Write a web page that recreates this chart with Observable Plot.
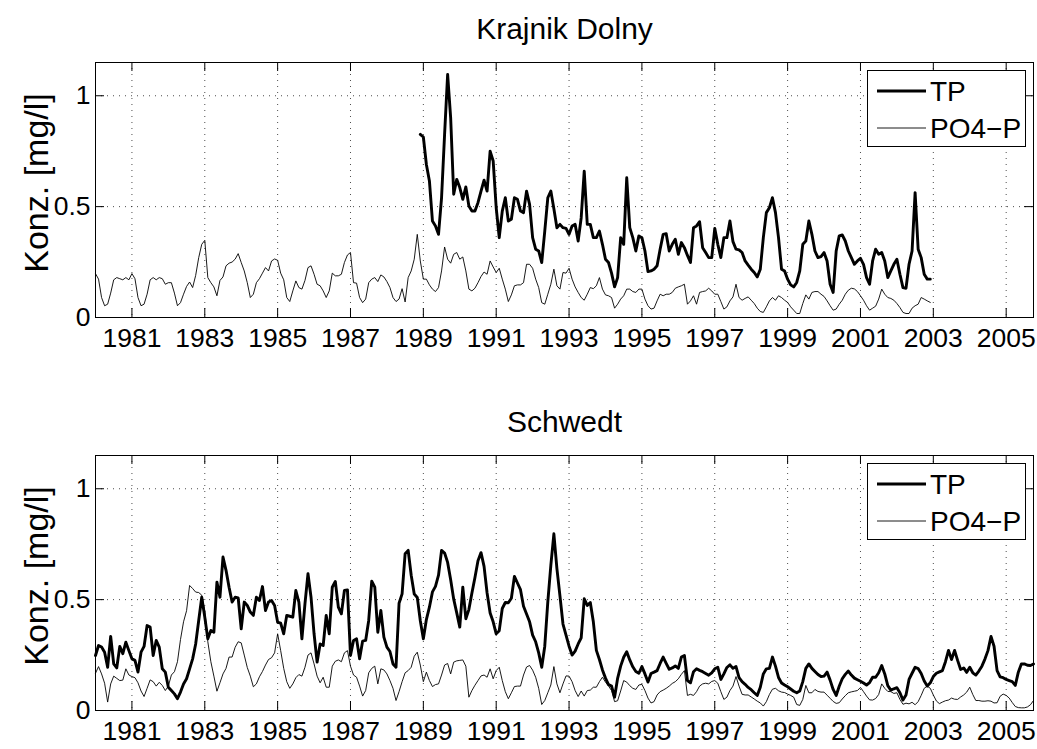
<!DOCTYPE html>
<html><head><meta charset="utf-8">
<script src="https://cdn.jsdelivr.net/npm/d3@7"></script>
<script src="https://cdn.jsdelivr.net/npm/@observablehq/plot@0.6"></script>
<style>
html,body{margin:0;padding:0;background:#fff;}
#chart{position:relative;width:1037px;height:749px;overflow:hidden;background:#fff;}
#chart svg{display:block;}
.panel{position:absolute;left:0;}
.legend{position:absolute;}
</style></head><body><div id="chart"></div>
<script>
// ---- data (monthly values, months counted from Jan 1980) ----
const stations = ["Krajnik Dolny", "Schwedt"];
const seriesNames = ["TP", "PO4\u2212P"];
const yearTicks = [1981, 1983, 1985, 1987, 1989, 1991, 1993, 1995, 1997, 1999, 2001, 2003, 2005];
const yTicks = [0, 0.5, 1];
const startYear = 1980;
const lastMonth = 309;

const krajnikPO4Start = 0;
const krajnikPO4 = [
0.198,0.173,0.09,0.053,0.06,0.11,0.17,0.18,0.175,0.17,
0.18,0.17,0.198,0.175,0.09,0.053,0.06,0.105,0.17,0.18,
0.17,0.18,0.175,0.15,0.157,0.157,0.11,0.053,0.067,0.105,
0.14,0.16,0.135,0.19,0.27,0.33,0.348,0.18,0.157,0.138,
0.098,0.167,0.183,0.233,0.245,0.25,0.263,0.288,0.248,0.21,
0.157,0.09,0.105,0.157,0.175,0.2,0.225,0.21,0.255,0.264,
0.258,0.2,0.17,0.09,0.072,0.12,0.165,0.135,0.128,0.167,
0.225,0.233,0.195,0.15,0.143,0.12,0.09,0.12,0.2,0.188,
0.188,0.195,0.248,0.282,0.293,0.157,0.155,0.09,0.067,0.083,
0.157,0.173,0.18,0.162,0.192,0.183,0.162,0.135,0.09,0.072,
0.083,0.13,0.07,0.18,0.21,0.263,0.375,0.255,0.173,0.173,
0.147,0.128,0.117,0.135,0.21,0.318,0.263,0.245,0.285,0.293,
0.263,0.273,0.21,0.128,0.12,0.132,0.157,0.185,0.205,0.195,
0.255,0.228,0.203,0.222,0.173,0.128,0.072,0.102,0.143,0.147,
0.147,0.157,0.24,0.24,0.222,0.173,0.135,0.067,0.06,0.105,
0.15,0.218,0.143,0.128,0.203,0.2,0.222,0.173,0.138,0.113,
0.09,0.078,0.105,0.135,0.13,0.143,0.18,0.128,0.102,0.098,
0.09,0.042,0.06,0.083,0.098,0.128,0.128,0.117,0.113,0.128,
0.128,0.083,0.053,0.038,0.042,0.075,0.105,0.098,0.105,0.105,
0.113,0.132,0.138,0.143,0.15,0.06,0.075,0.098,0.06,0.113,
0.117,0.12,0.132,0.12,0.105,0.105,0.072,0.038,0.048,0.075,
0.093,0.15,0.09,0.078,0.086,0.093,0.078,0.063,0.042,0.027,
0.023,0.048,0.075,0.09,0.078,0.098,0.09,0.078,0.068,0.048,
0.033,0.018,0.018,0.063,0.102,0.083,0.113,0.117,0.117,0.105,
0.095,0.075,0.053,0.033,0.038,0.06,0.078,0.105,0.123,0.132,
0.129,0.117,0.098,0.078,0.053,0.033,0.042,0.051,0.083,0.128,
0.105,0.09,0.086,0.078,0.063,0.045,0.023,0.018,0.018,0.042,
0.053,0.06,0.09,0.083,0.075,0.068];

const krajnikTPStart = 107;
const krajnikTP = [
0.826,0.814,0.69,0.616,0.435,0.413,0.375,0.54,0.826,1.096,
0.9,0.556,0.623,0.586,0.533,0.589,0.503,0.48,0.48,0.518,
0.57,0.619,0.57,0.75,0.706,0.495,0.36,0.48,0.54,0.435,
0.443,0.54,0.533,0.48,0.473,0.57,0.51,0.36,0.308,0.3,
0.248,0.39,0.54,0.57,0.49,0.405,0.42,0.405,0.402,0.375,
0.413,0.42,0.345,0.45,0.66,0.42,0.42,0.36,0.36,0.39,
0.33,0.263,0.248,0.2,0.138,0.18,0.36,0.33,0.63,0.405,
0.36,0.3,0.368,0.36,0.3,0.207,0.21,0.218,0.233,0.308,
0.375,0.378,0.3,0.33,0.353,0.285,0.338,0.315,0.28,0.248,
0.405,0.413,0.432,0.315,0.293,0.27,0.27,0.402,0.33,0.27,
0.36,0.36,0.435,0.342,0.308,0.305,0.293,0.255,0.236,0.218,
0.203,0.183,0.218,0.36,0.473,0.495,0.54,0.473,0.36,0.218,
0.21,0.173,0.147,0.138,0.158,0.21,0.33,0.345,0.435,0.375,
0.3,0.27,0.275,0.293,0.255,0.15,0.113,0.3,0.368,0.372,
0.345,0.3,0.27,0.24,0.255,0.267,0.24,0.18,0.15,0.255,
0.308,0.285,0.293,0.255,0.18,0.21,0.24,0.263,0.195,0.135,
0.132,0.24,0.3,0.563,0.308,0.27,0.195,0.173,0.173];

const schwedtTPStart = 0;
const schwedtTP = [
0.248,0.293,0.286,0.263,0.195,0.334,0.21,0.192,0.289,0.256,
0.308,0.27,0.233,0.226,0.173,0.263,0.289,0.383,0.376,0.248,
0.316,0.286,0.188,0.173,0.105,0.09,0.075,0.053,0.083,0.12,
0.143,0.188,0.233,0.3,0.406,0.511,0.421,0.323,0.361,0.353,
0.579,0.511,0.692,0.632,0.556,0.489,0.511,0.508,0.368,0.489,
0.474,0.444,0.429,0.511,0.496,0.559,0.451,0.489,0.496,0.474,
0.398,0.394,0.346,0.429,0.425,0.421,0.541,0.489,0.323,0.481,
0.617,0.511,0.346,0.218,0.3,0.293,0.429,0.346,0.556,0.582,
0.466,0.436,0.541,0.544,0.248,0.316,0.323,0.233,0.313,0.316,
0.406,0.583,0.556,0.353,0.451,0.331,0.286,0.266,0.21,0.195,
0.484,0.526,0.707,0.722,0.61,0.525,0.51,0.405,0.323,0.41,
0.466,0.535,0.56,0.61,0.722,0.71,0.668,0.59,0.502,0.44,
0.376,0.556,0.414,0.455,0.53,0.6,0.675,0.712,0.65,0.53,
0.44,0.40,0.346,0.36,0.46,0.487,0.486,0.506,0.605,0.575,
0.545,0.47,0.435,0.40,0.34,0.31,0.26,0.195,0.29,0.49,
0.655,0.797,0.64,0.517,0.39,0.34,0.29,0.25,0.268,0.3,
0.328,0.504,0.474,0.487,0.4,0.271,0.23,0.183,0.146,0.117,
0.11,0.06,0.145,0.2,0.24,0.265,0.228,0.197,0.176,0.168,
0.198,0.165,0.128,0.167,0.173,0.18,0.212,0.241,0.213,0.186,
0.192,0.201,0.19,0.241,0.248,0.135,0.125,0.175,0.188,0.181,
0.175,0.167,0.159,0.17,0.188,0.195,0.14,0.165,0.194,0.206,
0.19,0.198,0.148,0.13,0.118,0.104,0.094,0.08,0.068,0.105,
0.165,0.188,0.19,0.241,0.2,0.149,0.124,0.115,0.107,0.097,
0.087,0.08,0.088,0.13,0.19,0.21,0.19,0.176,0.162,0.153,
0.155,0.173,0.137,0.095,0.068,0.109,0.143,0.163,0.178,0.16,
0.146,0.139,0.132,0.124,0.115,0.126,0.15,0.15,0.17,0.203,
0.165,0.112,0.092,0.098,0.103,0.08,0.047,0.07,0.14,0.168,
0.195,0.189,0.167,0.133,0.11,0.125,0.153,0.168,0.174,0.18,
0.22,0.271,0.23,0.271,0.226,0.185,0.192,0.172,0.195,0.17,
0.16,0.178,0.2,0.232,0.27,0.334,0.29,0.18,0.152,0.148,
0.14,0.135,0.13,0.113,0.173,0.21,0.21,0.204,0.203,0.21];

const schwedtPO4Start = 0;
const schwedtPO4 = [
0.168,0.198,0.165,0.123,0.038,0.12,0.155,0.145,0.135,0.137,
0.188,0.16,0.153,0.148,0.125,0.088,0.063,0.10,0.138,0.13,
0.11,0.127,0.113,0.09,0.11,0.16,0.175,0.22,0.32,0.40,
0.45,0.564,0.55,0.534,0.532,0.52,0.45,0.31,0.22,0.155,
0.087,0.125,0.165,0.19,0.241,0.241,0.285,0.31,0.305,0.25,
0.194,0.155,0.107,0.12,0.152,0.176,0.205,0.23,0.238,0.26,
0.346,0.27,0.19,0.13,0.10,0.12,0.148,0.162,0.155,0.195,
0.25,0.26,0.21,0.155,0.125,0.15,0.105,0.105,0.2,0.222,
0.228,0.22,0.26,0.27,0.2,0.16,0.15,0.11,0.065,0.09,
0.17,0.19,0.2,0.12,0.188,0.183,0.165,0.135,0.1,0.045,
0.085,0.13,0.17,0.18,0.195,0.245,0.263,0.205,0.13,0.173,
0.135,0.108,0.117,0.12,0.16,0.205,0.212,0.165,0.218,0.224,
0.226,0.228,0.2,0.06,0.09,0.114,0.135,0.156,0.16,0.15,
0.188,0.143,0.18,0.195,0.135,0.085,0.053,0.08,0.108,0.11,
0.11,0.16,0.196,0.203,0.182,0.15,0.1,0.027,0.045,0.08,
0.115,0.198,0.12,0.08,0.12,0.156,0.155,0.13,0.09,0.063,
0.088,0.065,0.09,0.092,0.105,0.105,0.13,0.15,0.128,0.11,
0.09,0.04,0.044,0.088,0.135,0.128,0.112,0.1,0.095,0.115,
0.118,0.09,0.056,0.034,0.04,0.07,0.085,0.092,0.1,0.11,
0.122,0.13,0.143,0.163,0.18,0.068,0.073,0.068,0.085,0.11,
0.12,0.123,0.12,0.131,0.135,0.123,0.085,0.05,0.06,0.09,
0.11,0.153,0.11,0.073,0.07,0.07,0.061,0.052,0.042,0.034,
0.02,0.04,0.072,0.096,0.1,0.089,0.083,0.081,0.074,0.068,
0.06,0.027,0.023,0.05,0.113,0.08,0.08,0.095,0.086,0.083,
0.083,0.069,0.055,0.041,0.032,0.035,0.052,0.067,0.08,0.084,
0.087,0.09,0.104,0.085,0.065,0.048,0.047,0.054,0.072,0.12,
0.1,0.086,0.085,0.077,0.08,0.05,0.028,0.033,0.03,0.037,
0.026,0.04,0.068,0.1,0.11,0.1,0.07,0.043,0.031,0.038,
0.044,0.047,0.056,0.051,0.05,0.061,0.07,0.083,0.105,0.072,
0.045,0.045,0.042,0.042,0.044,0.042,0.034,0.035,0.064,0.074,
0.068,0.056,0.036,0.018,0.013,0.012,0.012,0.016,0.026,0.045];

// ---- layout / style ----
const FONT = '"Liberation Sans", Arial, Helvetica, sans-serif';
const W = 1037, ML = 95, MR = 4, TICK = 9;
const xDomain = [startYear, startYear + lastMonth / 12];

function toRows(values, start) {
  return values.map((v, i) => ({t: startYear + (start + i) / 12, v}));
}

function panel(title, tp, po4, height, marginTop, marginBottom) {
  const fw = W - ML - MR, fh = height - marginTop - marginBottom;
  return Plot.plot({
    width: W, height, marginLeft: ML, marginRight: MR, marginTop, marginBottom,
    style: {fontFamily: FONT, fontSize: "26.5px", color: "#000", background: "#fff", overflow: "visible"},
    x: {domain: xDomain, ticks: yearTicks, tickFormat: d => String(d), tickSize: 0, tickPadding: 11, label: null},
    y: {domain: [0, 1.15], ticks: yTicks, tickFormat: d => String(d), tickSize: 0, tickPadding: 5, label: null},
    marks: [
      Plot.ruleX(yearTicks, {stroke: "#000", strokeOpacity: 0.7, strokeDasharray: "1,5"}),
      Plot.ruleY(yTicks.slice(1), {stroke: "#000", strokeOpacity: 0.7, strokeDasharray: "1,5"}),
      Plot.ruleX(yearTicks, {stroke: "#000", insetTop: fh - TICK}),
      Plot.ruleX(yearTicks, {stroke: "#000", insetBottom: fh - TICK}),
      Plot.ruleY(yTicks, {stroke: "#000", insetRight: fw - TICK}),
      Plot.ruleY(yTicks, {stroke: "#000", insetLeft: fw - TICK}),
      Plot.line(tp, {x: "t", y: "v", stroke: "#000", strokeWidth: 2.9}),
      Plot.line(po4, {x: "t", y: "v", stroke: "#000", strokeWidth: 0.9}),
      Plot.frame({stroke: "#000", strokeWidth: 1}),
      Plot.text([title], {frameAnchor: "top", textAnchor: "middle", lineAnchor: "bottom", dy: -24, fontSize: 30, fill: "#000"}),
      Plot.text(["Konz. [mg/l]"], {frameAnchor: "left", textAnchor: "middle", rotate: -90, dx: -58, dy: -7, lineAnchor: "middle", fontSize: 34, fill: "#000"})
    ]
  });
}

function legend(top) {
  const w = 159, h = 77;
  const svg = d3.create("svg").attr("class", "legend").attr("width", w).attr("height", h)
    .style("left", "867px").style("top", top + "px").style("font-family", FONT);
  svg.append("rect").attr("x", 0.5).attr("y", 0.5).attr("width", w - 1).attr("height", h - 1)
    .attr("fill", "#fff").attr("stroke", "#000");
  const rows = [{name: seriesNames[0], sw: 2.9, y: 21}, {name: seriesNames[1], sw: 0.9, y: 58}];
  for (const r of rows) {
    svg.append("line").attr("x1", 10).attr("x2", 59).attr("y1", r.y).attr("y2", r.y)
      .attr("stroke", "#000").attr("stroke-width", r.sw);
    svg.append("text").attr("x", 63).attr("y", r.y).attr("dy", "0.35em")
      .attr("font-size", 28).attr("fill", "#000").text(r.name);
  }
  return svg.node();
}

const root = document.getElementById("chart");
const p1 = panel(stations[0], toRows(krajnikTP, krajnikTPStart), toRows(krajnikPO4, krajnikPO4Start), 375, 62, 58);
p1.classList.add("panel"); p1.style.top = "0px";
const p2 = panel(stations[1], toRows(schwedtTP, schwedtTPStart), toRows(schwedtPO4, schwedtPO4Start), 374, 80, 39);
p2.classList.add("panel"); p2.style.top = "375px";
root.append(p1, p2, legend(70), legend(463));
</script></body></html>
